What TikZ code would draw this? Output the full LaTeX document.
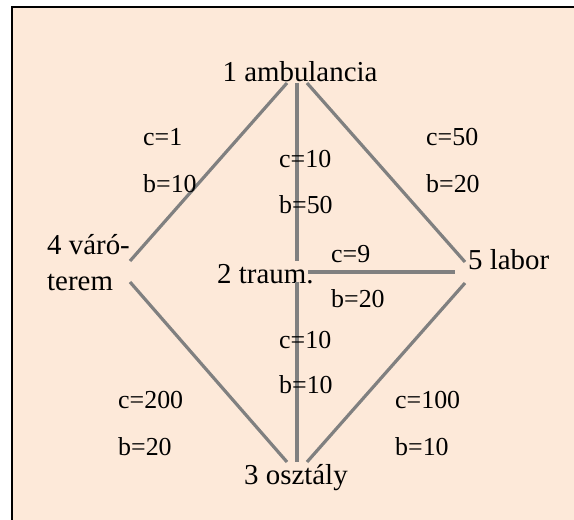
\documentclass[tikz,border=0pt]{standalone}
\usepackage{fontspec}
\setmainfont{Liberation Serif}
\definecolor{peach}{RGB}{253,233,217}
\definecolor{edgegray}{RGB}{128,128,128}
\begin{document}
\begin{tikzpicture}[x=1bp,y=-1bp,
  lbl/.style={anchor=base west,inner sep=0pt,font=\fontsize{26}{31}\selectfont},
  place/.style={inner sep=0pt,font=\fontsize{29}{34}\selectfont},
  edge/.style={draw=edgegray,line width=3.2bp}]
\clip (0,0) rectangle (574,520);
\useasboundingbox (0,0) rectangle (574,520);
\draw[fill=peach,draw=black,line width=1.6bp] (12,7) rectangle (590,540);
% places
\node[place,anchor=base] (n1) at (300,82) {1 ambulancia};
\node[place,anchor=base west] (n4a) at (47,254) {4 váró-};
\node[place,anchor=base west] (n4b) at (47,290) {terem};
\node[place,anchor=base west] (n2) at (217,283) {2 traum.};
\node[place,anchor=base west] (n5) at (468,269) {5 labor};
\node[place,anchor=base west] (n3) at (244,484) {3 osztály};
% edge end points
\coordinate (a1) at (287,83);
\coordinate (a2) at (297,83);
\coordinate (a3) at (307,83);
\coordinate (d1) at (130,261);
\coordinate (d2) at (130,282);
\coordinate (t1) at (297,261);
\coordinate (t2) at (308,272);
\coordinate (t3) at (297,282);
\coordinate (l1) at (465,262);
\coordinate (l2) at (455,272);
\coordinate (l3) at (465,283);
\coordinate (o1) at (287,462);
\coordinate (o2) at (297,462);
\coordinate (o3) at (307,462);
\draw[edge] (a1) -- (d1);
\draw[edge] (a2) -- (t1);
\draw[edge] (a3) -- (l1);
\draw[edge] (t2) -- (l2);
\draw[edge] (t3) -- (o2);
\draw[edge] (d2) -- (o1);
\draw[edge] (l3) -- (o3);
% labels
\node[lbl] (c14) at (143,146) {c=1};
\node[lbl] (b14) at (143,193) {b=10};
\node[lbl] (c12) at (279,168) {c=10};
\node[lbl] (b12) at (279,214) {b=50};
\node[lbl] (c15) at (426,146) {c=50};
\node[lbl] (b15) at (426,193) {b=20};
\node[lbl] (c25) at (331,262) {c=9};
\node[lbl] (b25) at (331,307) {b=20};
\node[lbl] (c23) at (279,348) {c=10};
\node[lbl] (b23) at (279,393) {b=10};
\node[lbl] (c43) at (118,408) {c=200};
\node[lbl] (b43) at (118,455) {b=20};
\node[lbl] (c53) at (395,408) {c=100};
\node[lbl] (b53) at (395,455) {b=10};
\end{tikzpicture}
\end{document}
